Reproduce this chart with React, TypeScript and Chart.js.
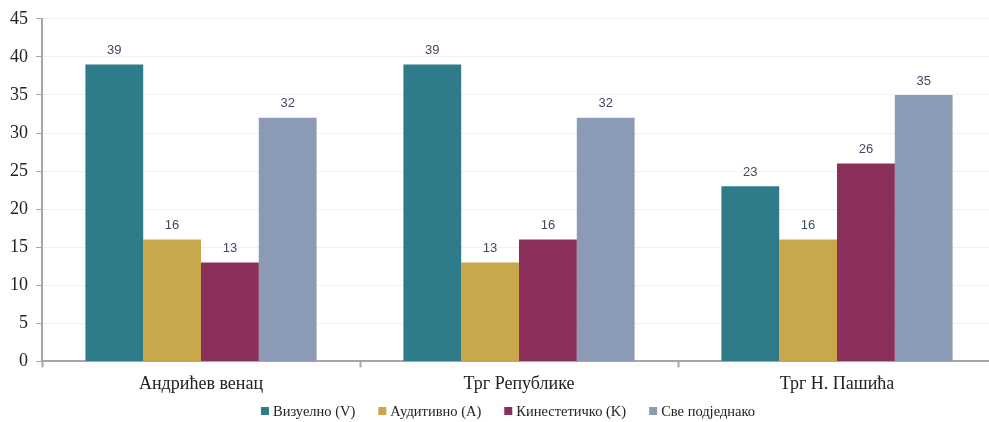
import React, { useEffect, useRef } from "react";
import { Chart, registerables } from "chart.js";

Chart.register(...registerables);

const categories = ["Андрићев венац", "Трг Републике", "Трг Н. Пашића"];
const seriesNames = ["Визуелно (V)", "Аудитивно (A)", "Кинестетичко (K)", "Све подједнако"];
const visual = [39, 39, 23];
const auditory = [16, 13, 16];
const kinesthetic = [13, 16, 26];
const allEqual = [32, 32, 35];
const colors = ["#2e7b8a", "#c9a84c", "#8b2f5b", "#8b9bb5"];

const SERIF = '"Liberation Serif", "Times New Roman", serif';

const valueLabels = {
  id: "valueLabels",
  afterDatasetsDraw(chart: any) {
    const ctx = chart.ctx;
    ctx.save();
    ctx.font = '13px "Liberation Sans", Arial, sans-serif';
    ctx.fillStyle = "#3f4a63";
    ctx.textAlign = "center";
    ctx.textBaseline = "middle";
    chart.data.datasets.forEach((ds: any, i: number) => {
      const meta = chart.getDatasetMeta(i);
      meta.data.forEach((el: any, j: number) => {
        ctx.fillText(String(ds.data[j]), el.x, el.y - 14);
      });
    });
    ctx.restore();
  },
};

const customLegend = {
  id: "customLegend",
  afterDraw(chart: any) {
    const ctx = chart.ctx;
    ctx.save();
    ctx.font = `14.5px ${SERIF}`;
    ctx.textBaseline = "middle";
    ctx.textAlign = "left";
    const box = 8;
    const gapBoxText = 4;
    const gapItems = 23;
    const ds = chart.data.datasets;
    const widths = ds.map((d: any) => box + gapBoxText + ctx.measureText(d.label).width);
    const total = widths.reduce((a: number, b: number) => a + b, 0) + gapItems * (ds.length - 1);
    let x = chart.width / 2 + 8 - total / 2;
    const y = 411;
    ds.forEach((d: any, i: number) => {
      ctx.fillStyle = d.backgroundColor;
      ctx.fillRect(x, y - box / 2, box, box);
      ctx.fillStyle = "#222";
      ctx.fillText(d.label, x + box + gapBoxText, y + 1);
      x += widths[i] + gapItems;
    });
    ctx.restore();
  },
};

export default function App() {
  const ref = useRef<HTMLCanvasElement>(null);
  useEffect(() => {
    document.body.style.margin = "0";
    document.body.style.overflow = "hidden";
    const data = [visual, auditory, kinesthetic, allEqual];
    const chart = new Chart(ref.current!, {
      type: "bar",
      data: {
        labels: categories,
        datasets: data.map((d, i) => ({
          label: seriesNames[i],
          data: d,
          backgroundColor: colors[i],
          borderWidth: 0,
          categoryPercentage: 0.727,
          barPercentage: 1,
        })),
      },
      plugins: [valueLabels, customLegend],
      options: {
        animation: false,
        responsive: false,
        maintainAspectRatio: false,
        layout: { padding: { top: 18, right: 4, left: 0, bottom: 21 } },
        plugins: {
          legend: { display: false },
          tooltip: { enabled: false },
        },
        scales: {
          x: {
            grid: {
              offset: true,
              drawOnChartArea: false,
              tickLength: 6,
              tickColor: "#a6a6a6",
              tickWidth: 2,
            },
            border: { color: "#a6a6a6", width: 2 },
            ticks: {
              color: "#222",
              padding: 6,
              font: { family: SERIF, size: 18 },
            },
          },
          y: {
            min: 0,
            max: 45,
            afterFit: (s: any) => {
              s.width = 42;
            },
            grid: {
              color: "#eef0f3",
              tickColor: "#a6a6a6",
              tickLength: 6,
              tickWidth: 1,
            },
            border: { color: "#a6a6a6", width: 2 },
            ticks: {
              stepSize: 5,
              color: "#222",
              padding: 8,
              font: { family: SERIF, size: 18 },
            },
          },
        },
      },
    });
    return () => chart.destroy();
  }, []);
  return (
    <div style={{ width: 989, height: 422, overflow: "hidden", position: "relative" }}>
      <canvas ref={ref} width={1000} height={422} style={{ display: "block" }} />
    </div>
  );
}
